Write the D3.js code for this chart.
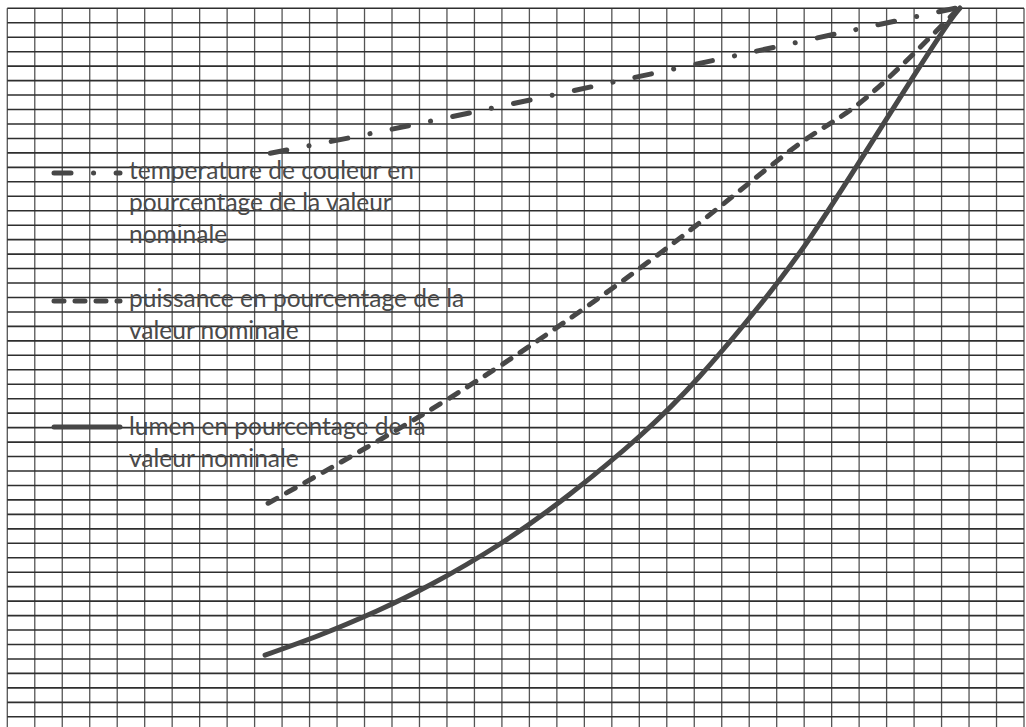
<!DOCTYPE html>
<html>
<head>
<meta charset="utf-8">
<script src="https://cdn.jsdelivr.net/npm/d3@7"></script>
<style>
  html, body { margin: 0; padding: 0; background: #fff; }
  svg { display: block; }
</style>
</head>
<body>
<svg id="chart" width="1026" height="727"></svg>
<script>
// ---- data (grid units: x = columns from the left edge, y = rows from the bottom line) ----
const seriesNames = [
  "temperature de couleur en pourcentage de la valeur nominale",
  "puissance en pourcentage de la valeur nominale",
  "lumen en pourcentage de la valeur nominale"
];
const temperatureX = [9.57, 14.91, 24.59, 33.50, 34.67];
const temperatureY = [38.98, 41.00, 44.94, 48.60, 49.02];

const puissanceX = [9.49, 13.09, 16.37, 20.11, 24.84, 28.85, 31.28, 34.20, 34.49];
const puissanceY = [14.77, 18.64, 22.37, 27.07, 33.64, 39.66, 42.85, 48.18, 48.73];

const lumenX = [9.38, 11.38, 13.45, 15.38, 17.93, 20.48, 23.02, 25.21, 27.39, 29.21, 31.28, 32.96, 34.20, 34.67];
const lumenY = [4.27, 5.66, 7.32, 9.11, 11.95, 15.41, 19.42, 23.57, 28.48, 33.11, 39.19, 44.24, 47.84, 49.02];

const legendLines = [
  ["temperature de couleur en", "pourcentage de la valeur", "nominale"],
  ["puissance en pourcentage de la", "valeur nominale"],
  ["lumen en pourcentage de la", "valeur nominale"]
];

const gridColumns = 37;
const gridRows = 49;

// ---- drawing ----
const svg = d3.select("#chart");
const x = d3.scaleLinear().domain([0, gridColumns]).range([7.3, 1024]);
const y = d3.scaleLinear().domain([0, gridRows]).range([716.8, 8.3]);

svg.append("rect").attr("width", 1026).attr("height", 727).attr("fill", "#fff");

const grid = svg.append("g");
grid.selectAll("line.v").data(d3.range(0, gridColumns + 1)).join("line")
  .attr("class", "v")
  .attr("x1", d => x(d)).attr("x2", d => x(d))
  .attr("y1", y(gridRows)).attr("y2", 727)
  .attr("stroke", "#555").attr("stroke-width", 1.3);
grid.selectAll("line.h").data(d3.range(0, gridRows + 1)).join("line")
  .attr("class", "h")
  .attr("x1", x(0)).attr("x2", x(gridColumns))
  .attr("y1", d => y(d)).attr("y2", d => y(d))
  .attr("stroke", "#2e2e2e").attr("stroke-width", 1.6);

const lineColor = "#474747";
const styles = [
  { dash: "17 22.5 0.1 22.5", width: 5 },
  { dash: "10 11", width: 5 },
  { dash: null, width: 5 }
];
const series = [
  d3.zip(temperatureX, temperatureY),
  d3.zip(puissanceX, puissanceY),
  d3.zip(lumenX, lumenY)
];

const line = d3.line().x(d => x(d[0])).y(d => y(d[1])).curve(d3.curveNatural);

svg.append("g").selectAll("path").data(series).join("path")
  .attr("d", line)
  .attr("fill", "none")
  .attr("stroke", lineColor)
  .attr("stroke-width", (d, i) => styles[i].width)
  .attr("stroke-linecap", "round")
  .attr("stroke-dasharray", (d, i) => styles[i].dash);

// legend
const legendSampleY = [173, 301, 427];
const legendBaseline = [179, 307, 435];
const lg = svg.append("g");
legendLines.forEach((lines, i) => {
  lg.append("line")
    .attr("x1", 54).attr("x2", 120)
    .attr("y1", legendSampleY[i]).attr("y2", legendSampleY[i])
    .attr("stroke", lineColor)
    .attr("stroke-width", 5)
    .attr("stroke-linecap", "round")
    .attr("stroke-dasharray", styles[i].dash);
  const t = lg.append("text")
    .attr("x", 129).attr("y", legendBaseline[i])
    .attr("font-family", "Lato, 'Open Sans', sans-serif")
    .attr("font-size", 24.5)
    .attr("fill", "#4a4a4a");
  lines.forEach((s, j) => {
    t.append("tspan").attr("x", 129).attr("dy", j === 0 ? 0 : 32).text(s);
  });
});
</script>
</body>
</html>
